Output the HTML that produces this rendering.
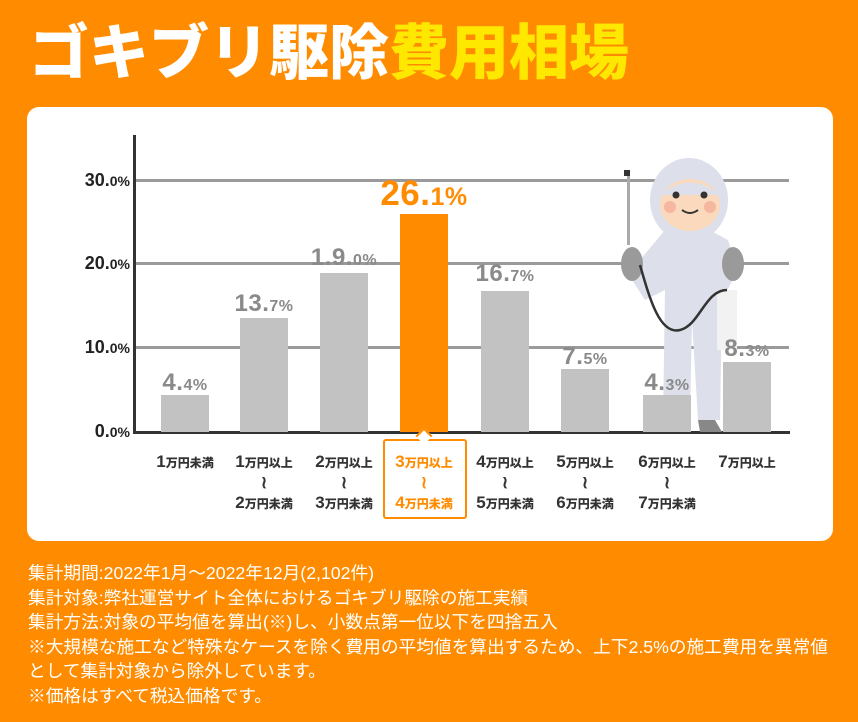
<!DOCTYPE html>
<html><head><meta charset="utf-8"><style>
*{margin:0;padding:0;box-sizing:border-box}
body{width:858px;height:722px;background:#FF8C00;position:relative;overflow:hidden;font-family:"Liberation Sans","Noto Sans CJK JP",sans-serif}
.t{position:absolute;white-space:nowrap}
.title{left:29px;top:14px;font-size:60px;font-weight:900;color:#fff;letter-spacing:0px;line-height:80px}
.title span{color:#FFE800}
.card{position:absolute;left:27px;top:107px;width:806px;height:434px;background:#fff;border-radius:12px}
.grid{position:absolute;left:135px;width:654px;height:3px;background:#9a9a9a}
.bar{position:absolute;width:48px;background:#c2c2c2}
.val{position:absolute;font-weight:900;color:#8a8a8a;font-size:24px;text-align:center;width:110px;letter-spacing:0.5px}
.val small{font-size:16px}
.yl{position:absolute;font-weight:900;font-size:18px;color:#222;text-align:right;width:74px;left:56px}
.yl small{font-size:14px}
.cat{position:absolute;width:90px;text-align:center;font-weight:900;font-size:17px;color:#333;line-height:20px}
.cat small{font-size:12px}
.foot{position:absolute;left:28px;top:561px;color:#fff;font-size:17.7px;line-height:24.6px;white-space:nowrap}
</style></head><body>
<div class="t title">ゴキブリ駆除<span>費用相場</span></div>
<div class="card"></div>
<div class="grid" style="top:179px"></div>
<div class="grid" style="top:262px"></div>
<div class="grid" style="top:346px"></div>
<div style="position:absolute;left:133px;top:135px;width:3px;height:299px;background:#333"></div>
<div style="position:absolute;left:133px;top:431px;width:657px;height:3px;background:#333"></div>
<div class="yl" style="top:170px">30.<small>0%</small></div>
<div class="yl" style="top:253px">20.<small>0%</small></div>
<div class="yl" style="top:337px">10.<small>0%</small></div>
<div class="yl" style="top:421px">0.<small>0%</small></div>

<svg style="position:absolute;left:0;top:0" width="858" height="722">
<rect x="627" y="175" width="3" height="70" fill="#aaa"/>
<rect x="624" y="170" width="6" height="6" fill="#333"/>
<path d="M665 230 L640 260 L632 280 L645 300 L665 290 L663 420 L690 420 L692 320 L698 420 L720 420 L722 300 L738 270 L728 240 L700 225Z" fill="#dde0ea"/>
<ellipse cx="689" cy="200" rx="39" ry="42" fill="#dde0ea"/>
<ellipse cx="690" cy="205" rx="30" ry="26" fill="#fad9bc"/>
<path d="M660 195 Q690 170 720 195" fill="#dde0ea"/>
<circle cx="676" cy="195" r="3.5" fill="#333"/><circle cx="704" cy="195" r="3.5" fill="#333"/>
<circle cx="670" cy="207" r="6" fill="#f5b7a0"/><circle cx="710" cy="207" r="6" fill="#f5b7a0"/>
<path d="M682 210 Q690 216 698 210" stroke="#333" stroke-width="2" fill="none"/>
<rect x="717" y="290" width="20" height="60" fill="#f2f2f2"/>
<ellipse cx="632" cy="264" rx="11" ry="17" fill="#9a9a9a"/>
<ellipse cx="733" cy="264" rx="11" ry="17" fill="#9a9a9a"/>
<path d="M640 265 C650 300 660 335 680 330 C700 325 705 290 727 290" stroke="#333" stroke-width="2.5" fill="none"/>
<path d="M698 420 L715 420 L722 432 L700 432Z" fill="#888"/>
</svg>

<div class="bar" style="left:161px;top:395px;height:37px"></div>
<div class="bar" style="left:240px;top:318px;height:114px"></div>
<div class="bar" style="left:320px;top:273px;height:159px"></div>
<div class="bar" style="left:400px;top:214px;height:218px;background:#FF8C00"></div>
<div class="bar" style="left:481px;top:291px;height:141px"></div>
<div class="bar" style="left:561px;top:369px;height:63px"></div>
<div class="bar" style="left:643px;top:395px;height:37px"></div>
<div class="bar" style="left:723px;top:362px;height:70px"></div>

<div class="val" style="left:130px;top:369px">4.<small>4%</small></div>
<div class="val" style="left:209px;top:290px">13.<small>7%</small></div>
<div class="val" style="left:289px;top:244px">1.9.<small>0%</small></div>
<div class="val" style="left:364px;top:174px;color:#FF8C00;font-size:35px;width:120px">26.<span style="font-size:25px">1%</span></div>
<div class="val" style="left:450px;top:260px">16.<small>7%</small></div>
<div class="val" style="left:530px;top:343px">7.<small>5%</small></div>
<div class="val" style="left:612px;top:369px">4.<small>3%</small></div>
<div class="val" style="left:692px;top:335px">8.<small>3%</small></div>

<div style="position:absolute;left:383px;top:439px;width:84px;height:80px;border:2px solid #FF8C00;border-radius:3px;background:#fff"></div>
<div style="position:absolute;left:418px;top:430px;width:12px;height:12px;border-left:2px solid #FF8C00;border-top:2px solid #FF8C00;background:#fff;transform:rotate(45deg)"></div>

<div class="cat" style="left:140px;top:452px">1<small>万円未満</small></div>
<div class="cat" style="left:219px;top:452px">1<small>万円以上</small><br>≀<br>2<small>万円未満</small></div>
<div class="cat" style="left:299px;top:452px">2<small>万円以上</small><br>≀<br>3<small>万円未満</small></div>
<div class="cat" style="left:379px;top:452px;color:#FF8C00">3<small>万円以上</small><br>≀<br>4<small>万円未満</small></div>
<div class="cat" style="left:460px;top:452px">4<small>万円以上</small><br>≀<br>5<small>万円未満</small></div>
<div class="cat" style="left:540px;top:452px">5<small>万円以上</small><br>≀<br>6<small>万円未満</small></div>
<div class="cat" style="left:622px;top:452px">6<small>万円以上</small><br>≀<br>7<small>万円未満</small></div>
<div class="cat" style="left:702px;top:452px">7<small>万円以上</small></div>

<div class="foot">集計期間:2022年1月～2022年12月(2,102件)<br>集計対象:弊社運営サイト全体におけるゴキブリ駆除の施工実績<br>集計方法:対象の平均値を算出(※)し、小数点第一位以下を四捨五入<br>※大規模な施工など特殊なケースを除く費用の平均値を算出するため、上下2.5%の施工費用を異常値<br>として集計対象から除外しています。<br>※価格はすべて税込価格です。</div>
</body></html>
